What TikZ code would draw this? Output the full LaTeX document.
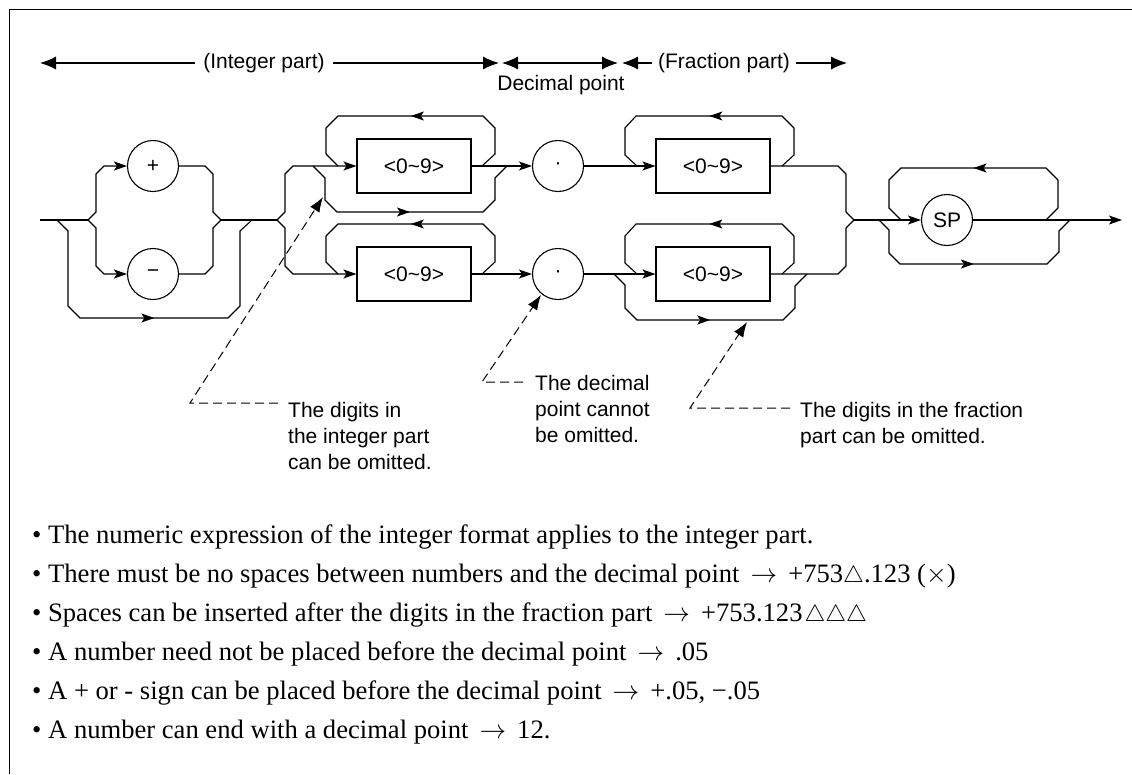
\documentclass[tikz,border=0pt]{standalone}
\usepackage{fix-cm}
\usepackage{fontspec}
\setmainfont{Liberation Serif}
\newfontfamily\arialf{Liberation Sans}
\usetikzlibrary{arrows.meta,decorations.markings}
\newcommand{\tri}{\scalebox{0.88}{$\triangle$}}
\begin{document}
\begin{tikzpicture}[x=1pt,y=-1pt,
  rail/.style={line width=1.1pt, line join=miter},
  rarr/.style={rail,-{Stealth[length=13pt,width=9pt,inset=3pt]}},
  midarr/.style={rail,postaction={decorate},decoration={markings,mark=at position 0.5 with {\arrow{Stealth[length=13pt,width=9pt,inset=3pt]}}}},
  circ/.style={circle,draw,line width=1.1pt,minimum size=51pt,inner sep=0pt,font=\arialf\fontsize{21}{25}\selectfont},
  digbox/.style={rectangle,draw,line width=1.1pt,minimum width=114pt,minimum height=54pt,inner sep=0pt,font=\arialf\fontsize{21}{25}\selectfont},
  lbl/.style={inner xsep=8pt,inner ysep=0pt,font=\arialf\fontsize{21}{25}\selectfont},
  tarr/.style={line width=1.1pt,-{Latex[length=16pt,width=13pt]}},
  tarrb/.style={line width=1.1pt,{Latex[length=16pt,width=13pt]}-{Latex[length=16pt,width=13pt]}},
  callout/.style={font=\arialf\fontsize{21}{26}\selectfont,align=left,anchor=north west,inner sep=0pt},
  dasharr/.style={line width=1pt,dash pattern=on 9pt off 5pt,-{Latex[length=15pt,width=11pt]}},
  body/.style={anchor=base west,inner sep=0pt,font=\fontsize{26.6}{30}\selectfont}]
\useasboundingbox (0,0) rectangle (1132,774);
% frame
\draw[line width=1.3pt] (9.5,774) -- (9.5,9.5) -- (1132,9.5);

% top labels
\node[lbl] (intl) at (264,63) {(Integer part)};
\node[lbl,inner xsep=6pt] (fracl) at (724,63) {(Fraction part)};
\node[lbl] (decl) at (561,85) {Decimal point};
\coordinate (tl) at (40,63);
\coordinate (ta) at (499,63);
\coordinate (tb) at (502,63);
\coordinate (tc) at (618,63);
\coordinate (td) at (622,63);
\coordinate (te) at (847,63);
\draw[tarr] (intl.west) -- (tl);
\draw[tarr] (intl.east) -- (ta);
\draw[tarrb] (tb) -- (tc);
\draw[tarr] (fracl.west) -- (td);
\draw[tarr] (fracl.east) -- (te);

% nodes
\node[circ] (plus) at (153,166) {+};
\node[circ] (minus) at (153,274) {−};
\node[digbox] (b1) at (414,166) {<0\textasciitilde9>};
\node[digbox] (b2) at (414,274) {<0\textasciitilde9>};
\node[circ] (d1) at (558,166) {\textperiodcentered};
\node[circ] (d2) at (558,274) {\textperiodcentered};
\node[digbox] (b3) at (713,166) {<0\textasciitilde9>};
\node[digbox] (b4) at (713,274) {<0\textasciitilde9>};
\node[circ] (sp) at (947,220) {SP};

\coordinate (start) at (40,220);
\coordinate (js) at (88,220);
\coordinate (jsr) at (221,220);
\coordinate (jd) at (277,220);
\coordinate (jf) at (854,220);
\coordinate (end) at (1122,220);

% sign group
\draw[rail] (start) -- (js);
\draw[rarr] (js) -- (96,212) -- (96,174) -- (104,166) -- (plus.west);
\draw[rarr] (js) -- (96,228) -- (96,266) -- (104,274) -- (minus.west);
\draw[rail] (plus.east) -- (205,166) -- (213,174) -- (213,212) -- (jsr);
\draw[rail] (minus.east) -- (205,274) -- (213,266) -- (213,228) -- (jsr);
\draw[midarr] (57,220) -- (68,231) -- (68,306) -- (80,318) -- (228,318) -- (240,306) -- (240,231) -- (252,220);
\draw[rail] (jsr) -- (jd);

% integer digits
\draw[rarr] (jd) -- (285,212) -- (285,174) -- (293,166) -- (b1.west);
\draw[rarr] (jd) -- (285,228) -- (285,266) -- (293,274) -- (b2.west);
\draw[midarr] (313,166) -- (325,178) -- (325,200) -- (337,212) -- (483,212) -- (495,200) -- (495,178) -- (507,166);
\draw[midarr] (482,166) -- (495,154) -- (495,128) -- (483,116) -- (338,116) -- (326,128) -- (326,154) -- (338,166);
\draw[midarr] (482,274) -- (495,262) -- (495,236) -- (483,224) -- (338,224) -- (326,236) -- (326,262) -- (338,274);
\draw[rarr] (b1.east) -- (d1.west);
\draw[rarr] (b2.east) -- (d2.west);

% fraction digits
\draw[rarr] (d1.east) -- (b3.west);
\draw[rarr] (d2.east) -- (b4.west);
\draw[midarr] (782,166) -- (794,155) -- (794,128) -- (782,116) -- (636,116) -- (625,128) -- (625,155) -- (637,166);
\draw[midarr] (782,274) -- (794,263) -- (794,236) -- (782,224) -- (636,224) -- (625,236) -- (625,263) -- (637,274);
\draw[midarr] (614,274) -- (625,285) -- (625,308) -- (637,320) -- (783,320) -- (795,308) -- (795,286) -- (807,274);
\draw[rail] (b3.east) -- (838,166) -- (846,174) -- (846,212) -- (jf);
\draw[rail] (b4.east) -- (838,274) -- (846,266) -- (846,228) -- (jf);

% SP group
\draw[rarr] (jf) -- (sp.west);
\draw[rarr] (sp.east) -- (end);
\draw[midarr] (1046,220) -- (1058,208) -- (1058,180) -- (1046,168) -- (901,168) -- (889,180) -- (889,208) -- (901,220);
\draw[midarr] (879,220) -- (889,230) -- (889,253) -- (900,264) -- (1047,264) -- (1059,252) -- (1059,231) -- (1070,220);

% callouts
\node[callout] (n1) at (288,402) {The digits in\\the integer part\\can be omitted.};
\node[callout] (n2) at (535,375) {The decimal\\point cannot\\be omitted.};
\node[callout] (n3) at (800,402) {The digits in the fraction\\part can be omitted.};
\coordinate (c1s) at (278,403);
\coordinate (c1k) at (190,403);
\coordinate (c1t) at (323,197);
\coordinate (c2s) at (523,382);
\coordinate (c2k) at (482,382);
\coordinate (c2t) at (541,295);
\coordinate (c3s) at (790,408);
\coordinate (c3k) at (690,408);
\coordinate (c3t) at (747,322);
\draw[dasharr] (c1s) -- (c1k) -- (c1t);
\draw[dasharr] (c2s) -- (c2k) -- (c2t);
\draw[dasharr] (c3s) -- (c3k) -- (c3t);

% notes
\node[body] (t1) at (32,543) {• The numeric expression of the integer format applies to the integer part.};
\node[body] (t2) at (32,582) {• There must be no spaces between numbers and the decimal point\ \,$\rightarrow$\ \,+753\tri.123 ($\times$)};
\node[body] (t3) at (32,621) {• Spaces can be inserted after the digits in the fraction part\ \,$\rightarrow$\ \,+753.123\kern2pt\tri\tri\tri};
\node[body] (t4) at (32,660) {• A number need not be placed before the decimal point\ \,$\rightarrow$\ \,.05};
\node[body] (t5) at (32,699) {• A + or - sign can be placed before the decimal point\ \,$\rightarrow$\ \,+.05, −.05};
\node[body] (t6) at (32,738) {• A number can end with a decimal point\ \,$\rightarrow$\ \,12.};
\end{tikzpicture}
\end{document}
